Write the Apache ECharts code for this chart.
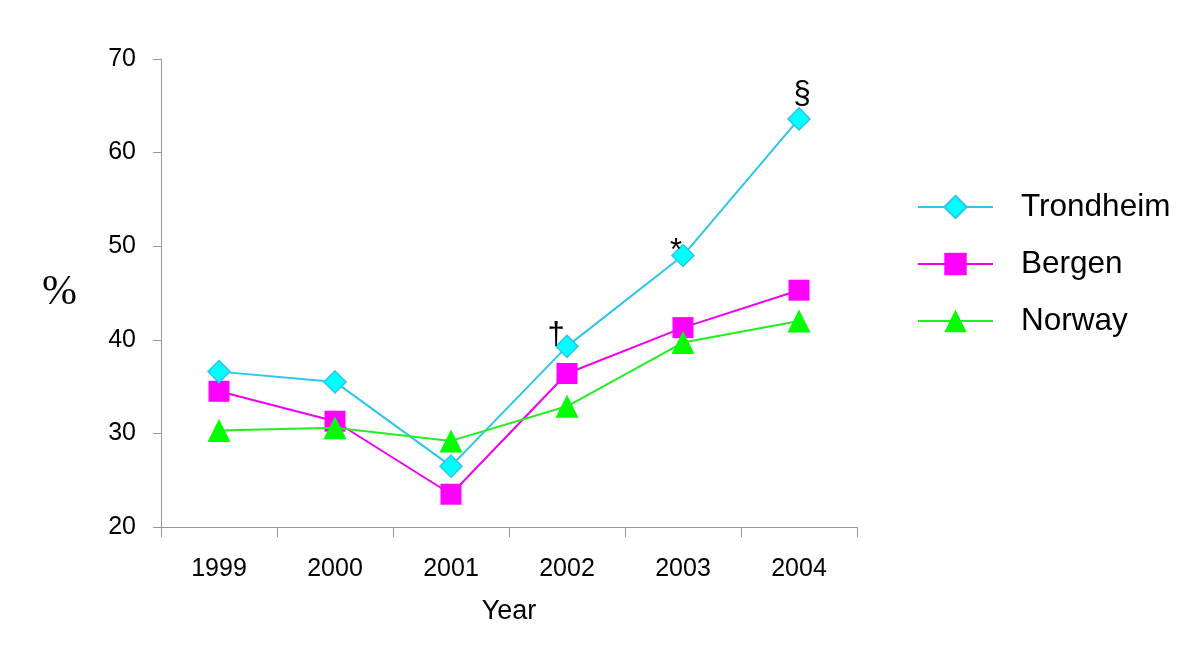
<!DOCTYPE html>
<html>
<head>
<meta charset="utf-8">
<script src="https://cdn.jsdelivr.net/npm/echarts@6/dist/echarts.min.js"></script>
<style>
html,body{margin:0;padding:0;background:#fff;}
#chart{width:1200px;height:657px;}
</style>
</head>
<body>
<div id="chart"></div>
<script>
const years = ['1999', '2000', '2001', '2002', '2003', '2004'];
const trondheim = [36.6, 35.5, 26.5, 39.3, 49.0, 63.6];
const bergen = [34.5, 31.3, 23.5, 36.4, 41.3, 45.3];
const norway = [30.3, 30.6, 29.2, 32.9, 39.7, 42.0];
const trondheimNotes = ['', '', '', '†', '*', '§'];
const yTicks = [20, 30, 40, 50, 60, 70];

const noteOffsets = {'†': [-11, -11], '*': [-7, -4], '§': [3, -24]};
const FONT = '"Liberation Sans", Arial, sans-serif';

const chart = echarts.init(document.getElementById('chart'));
const trondheimData = trondheim.map((v, i) => trondheimNotes[i] ? {
  value: v,
  label: {
    show: true, formatter: trondheimNotes[i], position: 'inside',
    offset: noteOffsets[trondheimNotes[i]], color: '#000',
    fontSize: 31, fontFamily: FONT
  }
} : v);

chart.setOption({
  animation: false,
  backgroundColor: '#fff',
  grid: {left: 161, right: 343, top: 59, bottom: 130},
  legend: {
    orient: 'vertical', left: 917, top: 191, padding: 0,
    itemWidth: 75, itemHeight: 28, itemGap: 25,
    textStyle: {fontSize: 31.5, fontFamily: FONT, color: '#000', padding: [0, 0, 0, 23]},
    data: ['Trondheim', 'Bergen', 'Norway']
  },
  xAxis: {
    type: 'category', data: years, boundaryGap: true,
    name: 'Year', nameLocation: 'middle', nameGap: 71,
    nameTextStyle: {fontSize: 27, fontFamily: FONT, color: '#000'},
    axisLine: {lineStyle: {color: '#999', width: 1}},
    axisTick: {show: true, length: 10, lineStyle: {color: '#999'}},
    axisLabel: {fontSize: 25, fontFamily: FONT, color: '#000', margin: 30}
  },
  yAxis: {
    type: 'value', min: yTicks[0], max: yTicks[yTicks.length - 1], interval: 10,
    name: '%', nameLocation: 'middle', nameGap: 84, nameRotate: 0,
    nameTextStyle: {fontSize: 42, fontFamily: '"Liberation Serif", "Times New Roman", serif', color: '#000', padding: [14, 0, 0, 0]},
    axisLine: {show: true, lineStyle: {color: '#999', width: 1}},
    axisTick: {show: true, length: 8, lineStyle: {color: '#999'}},
    splitLine: {show: false},
    axisLabel: {fontSize: 25, fontFamily: FONT, color: '#000', margin: 25}
  },
  series: [
    {
      name: 'Trondheim', type: 'line', data: trondheimData,
      symbol: 'diamond', symbolSize: 22,
      lineStyle: {color: '#2CC6EC', width: 2},
      itemStyle: {color: '#00FFFF', borderColor: '#2CC6EC', borderWidth: 1.5},
      z: 4
    },
    {
      name: 'Bergen', type: 'line', data: bergen,
      symbol: 'rect', symbolSize: 21,
      lineStyle: {color: '#F000F0', width: 2},
      itemStyle: {color: '#FF00FF', borderColor: '#FF00FF', borderWidth: 0},
      z: 3
    },
    {
      name: 'Norway', type: 'line', data: norway,
      symbol: 'triangle', symbolSize: 23,
      lineStyle: {color: '#22EE22', width: 2},
      itemStyle: {color: '#00FF00', borderColor: '#00FF00', borderWidth: 0},
      z: 5
    }
  ]
});
</script>
</body>
</html>
